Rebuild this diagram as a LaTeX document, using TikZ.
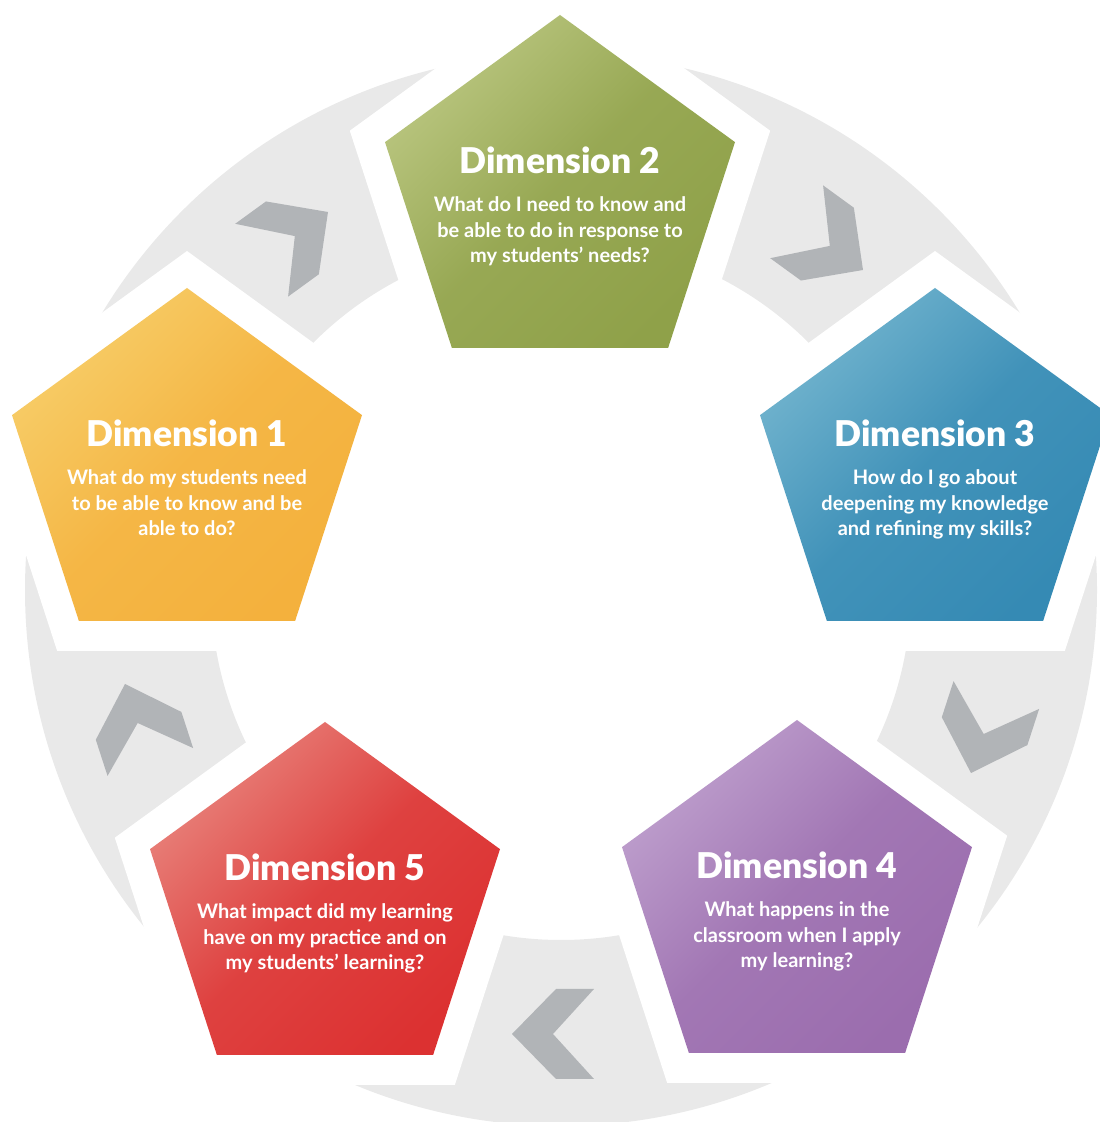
\documentclass[tikz,border=0pt]{standalone}
\usepackage{fontspec}
\setmainfont{Lato}
\newfontfamily\titlefont{Lato Black}
\usetikzlibrary{shapes.geometric}

\definecolor{ringgray}{HTML}{E9E9E9}
\definecolor{chevgray}{HTML}{B1B4B7}
\definecolor{yellowA}{HTML}{F7CD68}
\definecolor{yellowB}{HTML}{F4B13D}
\definecolor{greenA}{HTML}{BAC680}
\definecolor{greenB}{HTML}{8FA149}
\definecolor{blueA}{HTML}{72B4CE}
\definecolor{blueB}{HTML}{358AB4}
\definecolor{purpleA}{HTML}{BE9FCD}
\definecolor{purpleB}{HTML}{9B6DAE}
\definecolor{redA}{HTML}{E8827B}
\definecolor{redB}{HTML}{DC3131}

\tikzset{
  pent/.style={regular polygon, regular polygon sides=5, minimum size=368pt, inner sep=0pt},
  pentgap/.style={regular polygon, regular polygon sides=5, minimum size=442pt, inner sep=0pt, fill=white},
  dimshade/.style 2 args={top color=#1, bottom color=#2, middle color=#2!80!#1, shading angle=45},
  dimtitle/.style={anchor=base, text=white, inner sep=0pt, font=\titlefont\fontsize{35.5}{35.5}\selectfont},
  % base of a three-line node sits on its last line
  dimtext/.style={anchor=base, text=white, inner sep=0pt, align=center, font=\bfseries\fontsize{20}{25.5}\selectfont},
}

\begin{document}
\begin{tikzpicture}[x=1pt, y=1pt]
  \clip (0,0) rectangle (1100,1122);
  \coordinate (ctr) at (561,532);
  \coordinate (c1) at (187,650);
  \coordinate (c2) at (560,923);
  \coordinate (c3) at (935,650);
  \coordinate (c4) at (797,218);
  \coordinate (c5) at (325,216);

  % grey ring
  \fill[ringgray, even odd rule] (ctr) circle[radius=536pt] (ctr) circle[radius=350pt];

  % white margins round the pentagons
  \foreach \i in {1,...,5}
    \node[pentgap] (g\i) at (c\i) {};

  % pentagons
  \node[pent, dimshade={yellowA}{yellowB}] (d1) at (c1) {};
  \node[pent, dimshade={greenA}{greenB}] (d2) at (c2) {};
  \node[pent, dimshade={blueA}{blueB}] (d3) at (c3) {};
  \node[pent, dimshade={purpleA}{purpleB}] (d4) at (c4) {};
  \node[pent, dimshade={redA}{redB}] (d5) at (c5) {};

  % chevrons, clockwise
  \foreach \x/\y/\a in {328/910/36, 863/852/-36, 971/349/-108, 512/88/180, 125/438/108}
    \fill[chevgray, shift={(\x,\y)}, rotate=\a]
      (0,0) -- (-44,45) -- (-82,45) -- (-41,0) -- (-82,-45) -- (-44,-45) -- cycle;

  % Dimension 1
  \node[dimtitle] (t1) at ([yshift=25.5pt]d1.center) {Dimension 1};
  \node[dimtext] (q1) at ([yshift=-64pt]d1.center) {What do my students need\\to be able to know and be\\able to do?};

  % Dimension 2
  \node[dimtitle] (t2) at ([yshift=25.5pt]d2.center) {Dimension 2};
  \node[dimtext] (q2) at ([yshift=-64pt]d2.center) {What do I need to know and\\be able to do in response to\\my students’ needs?};

  % Dimension 3
  \node[dimtitle] (t3) at ([yshift=25.5pt]d3.center) {Dimension 3};
  \node[dimtext] (q3) at ([yshift=-64pt]d3.center) {How do I go about\\deepening my knowledge\\and refining my skills?};

  % Dimension 4
  \node[dimtitle] (t4) at ([yshift=25.5pt]d4.center) {Dimension 4};
  \node[dimtext] (q4) at ([yshift=-64pt]d4.center) {What happens in the\\classroom when I apply\\my learning?};

  % Dimension 5
  \node[dimtitle] (t5) at ([yshift=25.5pt]d5.center) {Dimension 5};
  \node[dimtext] (q5) at ([yshift=-64pt]d5.center) {What impact did my learning\\have on my practice and on\\my students’ learning?};
\end{tikzpicture}
\end{document}
